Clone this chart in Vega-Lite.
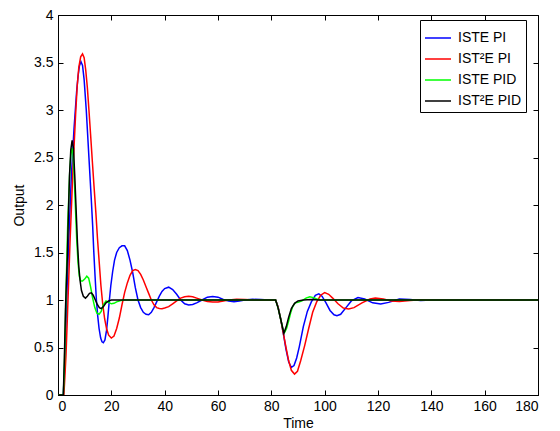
{
  "$schema": "https://vega.github.io/schema/vega-lite/v6.json",
  "width": 480,
  "height": 380,
  "autosize": "none",
  "padding": {"left": 58, "top": 15, "right": 22, "bottom": 36},
  "background": "white",
  "config": {
    "view": {"stroke": "black", "strokeWidth": 1},
    "axis": {"grid": false, "domainColor": "black", "tickColor": "black", "tickSize": -5, "labelColor": "black", "labelFont": "Liberation Sans", "labelFontSize": 14, "titleFont": "Liberation Sans", "titleFontSize": 14, "titleFontWeight": "normal", "titleColor": "black"}
  },
  "datasets": {
    "curves": [
      {"s":"ISTE PI","t":0,"y":0},{"s":"ISTE PI","t":2,"y":0},{"s":"ISTE PI","t":2.5,"y":0.3},{"s":"ISTE PI","t":3,"y":0.75},{"s":"ISTE PI","t":3.5,"y":1.2},{"s":"ISTE PI","t":4,"y":1.6},{"s":"ISTE PI","t":4.5,"y":1.95},{"s":"ISTE PI","t":5,"y":2.3},{"s":"ISTE PI","t":5.5,"y":2.55},{"s":"ISTE PI","t":6,"y":2.8},{"s":"ISTE PI","t":6.5,"y":3.0},{"s":"ISTE PI","t":7,"y":3.2},{"s":"ISTE PI","t":7.5,"y":3.35},{"s":"ISTE PI","t":8,"y":3.46},{"s":"ISTE PI","t":8.6,"y":3.51},{"s":"ISTE PI","t":9.2,"y":3.47},{"s":"ISTE PI","t":9.8,"y":3.32},{"s":"ISTE PI","t":10.6,"y":3.0},{"s":"ISTE PI","t":11.1,"y":2.75},{"s":"ISTE PI","t":11.6,"y":2.5},{"s":"ISTE PI","t":12.1,"y":2.25},{"s":"ISTE PI","t":12.5,"y":2.05},{"s":"ISTE PI","t":13,"y":1.78},{"s":"ISTE PI","t":13.4,"y":1.52},{"s":"ISTE PI","t":13.9,"y":1.25},{"s":"ISTE PI","t":14.4,"y":1.0},{"s":"ISTE PI","t":14.9,"y":0.83},{"s":"ISTE PI","t":15.4,"y":0.7},{"s":"ISTE PI","t":16,"y":0.6},{"s":"ISTE PI","t":16.5,"y":0.56},{"s":"ISTE PI","t":17,"y":0.55},{"s":"ISTE PI","t":17.6,"y":0.58},{"s":"ISTE PI","t":18.2,"y":0.68},{"s":"ISTE PI","t":18.7,"y":0.82},{"s":"ISTE PI","t":19.2,"y":0.98},{"s":"ISTE PI","t":19.8,"y":1.15},{"s":"ISTE PI","t":20.5,"y":1.3},{"s":"ISTE PI","t":21.2,"y":1.42},{"s":"ISTE PI","t":22,"y":1.5},{"s":"ISTE PI","t":23,"y":1.55},{"s":"ISTE PI","t":24,"y":1.57},{"s":"ISTE PI","t":25,"y":1.57},{"s":"ISTE PI","t":26,"y":1.52},{"s":"ISTE PI","t":27,"y":1.42},{"s":"ISTE PI","t":28,"y":1.29},{"s":"ISTE PI","t":29,"y":1.13},{"s":"ISTE PI","t":30,"y":1.0},{"s":"ISTE PI","t":31,"y":0.92},{"s":"ISTE PI","t":32,"y":0.87},{"s":"ISTE PI","t":33,"y":0.85},{"s":"ISTE PI","t":34,"y":0.845},{"s":"ISTE PI","t":35,"y":0.87},{"s":"ISTE PI","t":36,"y":0.92},{"s":"ISTE PI","t":37,"y":0.98},{"s":"ISTE PI","t":38,"y":1.04},{"s":"ISTE PI","t":39,"y":1.09},{"s":"ISTE PI","t":40,"y":1.12},{"s":"ISTE PI","t":41.5,"y":1.135},{"s":"ISTE PI","t":43,"y":1.11},{"s":"ISTE PI","t":44.5,"y":1.06},{"s":"ISTE PI","t":46,"y":1.0},{"s":"ISTE PI","t":47.5,"y":0.96},{"s":"ISTE PI","t":49,"y":0.948},{"s":"ISTE PI","t":50.5,"y":0.952},{"s":"ISTE PI","t":52,"y":0.97},{"s":"ISTE PI","t":54,"y":1.0},{"s":"ISTE PI","t":56,"y":1.03},{"s":"ISTE PI","t":58,"y":1.037},{"s":"ISTE PI","t":60,"y":1.03},{"s":"ISTE PI","t":62,"y":1.005},{"s":"ISTE PI","t":64,"y":0.99},{"s":"ISTE PI","t":66,"y":0.982},{"s":"ISTE PI","t":68,"y":0.99},{"s":"ISTE PI","t":70,"y":1.0},{"s":"ISTE PI","t":73,"y":1.008},{"s":"ISTE PI","t":76,"y":1.004},{"s":"ISTE PI","t":79,"y":1.0},{"s":"ISTE PI","t":81.6,"y":1.0},{"s":"ISTE PI","t":82.5,"y":0.93},{"s":"ISTE PI","t":83.5,"y":0.8},{"s":"ISTE PI","t":84.5,"y":0.65},{"s":"ISTE PI","t":85.5,"y":0.48},{"s":"ISTE PI","t":86.5,"y":0.35},{"s":"ISTE PI","t":87.5,"y":0.29},{"s":"ISTE PI","t":88.5,"y":0.31},{"s":"ISTE PI","t":89.5,"y":0.39},{"s":"ISTE PI","t":90.5,"y":0.51},{"s":"ISTE PI","t":92,"y":0.72},{"s":"ISTE PI","t":93.5,"y":0.88},{"s":"ISTE PI","t":95,"y":0.98},{"s":"ISTE PI","t":96.5,"y":1.05},{"s":"ISTE PI","t":97.8,"y":1.065},{"s":"ISTE PI","t":99,"y":1.04},{"s":"ISTE PI","t":100.5,"y":0.97},{"s":"ISTE PI","t":102,"y":0.89},{"s":"ISTE PI","t":103.5,"y":0.845},{"s":"ISTE PI","t":104.6,"y":0.835},{"s":"ISTE PI","t":106,"y":0.85},{"s":"ISTE PI","t":108,"y":0.92},{"s":"ISTE PI","t":110,"y":0.99},{"s":"ISTE PI","t":112.5,"y":1.025},{"s":"ISTE PI","t":115,"y":1.01},{"s":"ISTE PI","t":118,"y":0.97},{"s":"ISTE PI","t":121,"y":0.958},{"s":"ISTE PI","t":124,"y":0.975},{"s":"ISTE PI","t":128,"y":1.01},{"s":"ISTE PI","t":132,"y":1.005},{"s":"ISTE PI","t":136,"y":0.995},{"s":"ISTE PI","t":140,"y":1.0},{"s":"ISTE PI","t":180,"y":1.0},
      {"s":"IST²E PI","t":0,"y":0},{"s":"IST²E PI","t":2.2,"y":0},{"s":"IST²E PI","t":2.6,"y":0.2},{"s":"IST²E PI","t":3,"y":0.42},{"s":"IST²E PI","t":3.5,"y":0.8},{"s":"IST²E PI","t":4,"y":1.2},{"s":"IST²E PI","t":4.5,"y":1.6},{"s":"IST²E PI","t":5,"y":1.95},{"s":"IST²E PI","t":5.5,"y":2.3},{"s":"IST²E PI","t":6,"y":2.6},{"s":"IST²E PI","t":6.6,"y":2.95},{"s":"IST²E PI","t":7.2,"y":3.25},{"s":"IST²E PI","t":7.8,"y":3.45},{"s":"IST²E PI","t":8.5,"y":3.56},{"s":"IST²E PI","t":9.2,"y":3.59},{"s":"IST²E PI","t":9.8,"y":3.55},{"s":"IST²E PI","t":10.4,"y":3.42},{"s":"IST²E PI","t":11,"y":3.24},{"s":"IST²E PI","t":11.6,"y":3.0},{"s":"IST²E PI","t":12.2,"y":2.75},{"s":"IST²E PI","t":12.9,"y":2.45},{"s":"IST²E PI","t":13.5,"y":2.2},{"s":"IST²E PI","t":14.2,"y":1.92},{"s":"IST²E PI","t":14.8,"y":1.65},{"s":"IST²E PI","t":15.5,"y":1.38},{"s":"IST²E PI","t":16.1,"y":1.15},{"s":"IST²E PI","t":16.8,"y":0.95},{"s":"IST²E PI","t":17.5,"y":0.8},{"s":"IST²E PI","t":18.2,"y":0.7},{"s":"IST²E PI","t":19,"y":0.63},{"s":"IST²E PI","t":20,"y":0.6},{"s":"IST²E PI","t":21,"y":0.62},{"s":"IST²E PI","t":22,"y":0.7},{"s":"IST²E PI","t":23,"y":0.81},{"s":"IST²E PI","t":24,"y":0.95},{"s":"IST²E PI","t":25,"y":1.08},{"s":"IST²E PI","t":26,"y":1.18},{"s":"IST²E PI","t":27,"y":1.26},{"s":"IST²E PI","t":28,"y":1.31},{"s":"IST²E PI","t":29,"y":1.32},{"s":"IST²E PI","t":30,"y":1.31},{"s":"IST²E PI","t":31,"y":1.27},{"s":"IST²E PI","t":32,"y":1.21},{"s":"IST²E PI","t":33,"y":1.14},{"s":"IST²E PI","t":34,"y":1.07},{"s":"IST²E PI","t":35,"y":1.0},{"s":"IST²E PI","t":36,"y":0.95},{"s":"IST²E PI","t":37,"y":0.92},{"s":"IST²E PI","t":38,"y":0.91},{"s":"IST²E PI","t":39,"y":0.908},{"s":"IST²E PI","t":40,"y":0.915},{"s":"IST²E PI","t":41.5,"y":0.93},{"s":"IST²E PI","t":43,"y":0.96},{"s":"IST²E PI","t":44.5,"y":0.99},{"s":"IST²E PI","t":46,"y":1.02},{"s":"IST²E PI","t":47.5,"y":1.035},{"s":"IST²E PI","t":49,"y":1.04},{"s":"IST²E PI","t":50.5,"y":1.035},{"s":"IST²E PI","t":52,"y":1.02},{"s":"IST²E PI","t":54,"y":1.0},{"s":"IST²E PI","t":56,"y":0.985},{"s":"IST²E PI","t":58,"y":0.978},{"s":"IST²E PI","t":60,"y":0.98},{"s":"IST²E PI","t":62,"y":0.99},{"s":"IST²E PI","t":64,"y":1.0},{"s":"IST²E PI","t":67,"y":1.008},{"s":"IST²E PI","t":70,"y":1.006},{"s":"IST²E PI","t":74,"y":1.0},{"s":"IST²E PI","t":78,"y":0.998},{"s":"IST²E PI","t":81.6,"y":1.0},{"s":"IST²E PI","t":82.5,"y":0.93},{"s":"IST²E PI","t":83.5,"y":0.8},{"s":"IST²E PI","t":84.5,"y":0.65},{"s":"IST²E PI","t":85.5,"y":0.5},{"s":"IST²E PI","t":86.5,"y":0.36},{"s":"IST²E PI","t":87.5,"y":0.26},{"s":"IST²E PI","t":88.7,"y":0.22},{"s":"IST²E PI","t":89.8,"y":0.25},{"s":"IST²E PI","t":91,"y":0.36},{"s":"IST²E PI","t":92.5,"y":0.52},{"s":"IST²E PI","t":94,"y":0.7},{"s":"IST²E PI","t":95.5,"y":0.87},{"s":"IST²E PI","t":97,"y":0.98},{"s":"IST²E PI","t":98.5,"y":1.05},{"s":"IST²E PI","t":100,"y":1.078},{"s":"IST²E PI","t":101.5,"y":1.06},{"s":"IST²E PI","t":103,"y":1.02},{"s":"IST²E PI","t":105,"y":0.96},{"s":"IST²E PI","t":107,"y":0.915},{"s":"IST²E PI","t":109,"y":0.905},{"s":"IST²E PI","t":111,"y":0.92},{"s":"IST²E PI","t":114,"y":0.97},{"s":"IST²E PI","t":117,"y":1.01},{"s":"IST²E PI","t":119,"y":1.02},{"s":"IST²E PI","t":122,"y":1.01},{"s":"IST²E PI","t":125,"y":0.99},{"s":"IST²E PI","t":128,"y":0.985},{"s":"IST²E PI","t":132,"y":0.995},{"s":"IST²E PI","t":136,"y":1.003},{"s":"IST²E PI","t":140,"y":1.0},{"s":"IST²E PI","t":180,"y":1.0},
      {"s":"ISTE PID","t":0,"y":0},{"s":"ISTE PID","t":2,"y":0},{"s":"ISTE PID","t":2.4,"y":0.3},{"s":"ISTE PID","t":2.8,"y":0.8},{"s":"ISTE PID","t":3.2,"y":1.3},{"s":"ISTE PID","t":3.6,"y":1.75},{"s":"ISTE PID","t":4,"y":2.05},{"s":"ISTE PID","t":4.4,"y":2.35},{"s":"ISTE PID","t":4.8,"y":2.52},{"s":"ISTE PID","t":5.2,"y":2.6},{"s":"ISTE PID","t":5.6,"y":2.55},{"s":"ISTE PID","t":6,"y":2.35},{"s":"ISTE PID","t":6.5,"y":2.0},{"s":"ISTE PID","t":7,"y":1.65},{"s":"ISTE PID","t":7.5,"y":1.4},{"s":"ISTE PID","t":8,"y":1.25},{"s":"ISTE PID","t":8.5,"y":1.2},{"s":"ISTE PID","t":9.2,"y":1.2},{"s":"ISTE PID","t":10,"y":1.22},{"s":"ISTE PID","t":10.8,"y":1.25},{"s":"ISTE PID","t":11.5,"y":1.23},{"s":"ISTE PID","t":12.2,"y":1.14},{"s":"ISTE PID","t":13,"y":1.02},{"s":"ISTE PID","t":13.8,"y":0.92},{"s":"ISTE PID","t":14.6,"y":0.86},{"s":"ISTE PID","t":15.4,"y":0.85},{"s":"ISTE PID","t":16.2,"y":0.88},{"s":"ISTE PID","t":17,"y":0.95},{"s":"ISTE PID","t":18,"y":0.99},{"s":"ISTE PID","t":19,"y":0.975},{"s":"ISTE PID","t":20,"y":0.96},{"s":"ISTE PID","t":21,"y":0.965},{"s":"ISTE PID","t":22,"y":0.98},{"s":"ISTE PID","t":23.5,"y":0.995},{"s":"ISTE PID","t":25,"y":1.0},{"s":"ISTE PID","t":81.6,"y":1.0},{"s":"ISTE PID","t":82.5,"y":0.92},{"s":"ISTE PID","t":83.5,"y":0.8},{"s":"ISTE PID","t":84.3,"y":0.7},{"s":"ISTE PID","t":85,"y":0.66},{"s":"ISTE PID","t":85.7,"y":0.7},{"s":"ISTE PID","t":86.5,"y":0.78},{"s":"ISTE PID","t":87.3,"y":0.87},{"s":"ISTE PID","t":88,"y":0.93},{"s":"ISTE PID","t":89,"y":0.97},{"s":"ISTE PID","t":90,"y":0.975},{"s":"ISTE PID","t":91.5,"y":0.99},{"s":"ISTE PID","t":93,"y":1.02},{"s":"ISTE PID","t":94.4,"y":1.035},{"s":"ISTE PID","t":95.8,"y":1.025},{"s":"ISTE PID","t":97,"y":1.01},{"s":"ISTE PID","t":98.5,"y":1.0},{"s":"ISTE PID","t":180,"y":1.0},
      {"s":"IST²E PID","t":0,"y":0},{"s":"IST²E PID","t":2,"y":0},{"s":"IST²E PID","t":2.4,"y":0.4},{"s":"IST²E PID","t":2.8,"y":0.9},{"s":"IST²E PID","t":3.1,"y":1.15},{"s":"IST²E PID","t":3.5,"y":1.45},{"s":"IST²E PID","t":3.9,"y":1.9},{"s":"IST²E PID","t":4.3,"y":2.3},{"s":"IST²E PID","t":4.8,"y":2.58},{"s":"IST²E PID","t":5.3,"y":2.68},{"s":"IST²E PID","t":5.8,"y":2.6},{"s":"IST²E PID","t":6.3,"y":2.3},{"s":"IST²E PID","t":6.8,"y":1.95},{"s":"IST²E PID","t":7.3,"y":1.6},{"s":"IST²E PID","t":7.8,"y":1.35},{"s":"IST²E PID","t":8.3,"y":1.2},{"s":"IST²E PID","t":8.8,"y":1.1},{"s":"IST²E PID","t":9.5,"y":1.04},{"s":"IST²E PID","t":10.3,"y":1.02},{"s":"IST²E PID","t":11,"y":1.04},{"s":"IST²E PID","t":11.8,"y":1.07},{"s":"IST²E PID","t":12.5,"y":1.075},{"s":"IST²E PID","t":13.2,"y":1.05},{"s":"IST²E PID","t":14,"y":1.0},{"s":"IST²E PID","t":14.8,"y":0.95},{"s":"IST²E PID","t":15.5,"y":0.92},{"s":"IST²E PID","t":16.2,"y":0.91},{"s":"IST²E PID","t":17,"y":0.93},{"s":"IST²E PID","t":18,"y":0.97},{"s":"IST²E PID","t":19,"y":0.99},{"s":"IST²E PID","t":20,"y":1.0},{"s":"IST²E PID","t":81.6,"y":1.0},{"s":"IST²E PID","t":82.5,"y":0.92},{"s":"IST²E PID","t":83.5,"y":0.8},{"s":"IST²E PID","t":84.7,"y":0.65},{"s":"IST²E PID","t":85.6,"y":0.72},{"s":"IST²E PID","t":86.5,"y":0.82},{"s":"IST²E PID","t":87.5,"y":0.91},{"s":"IST²E PID","t":88.7,"y":0.965},{"s":"IST²E PID","t":90,"y":0.99},{"s":"IST²E PID","t":92,"y":1.0},{"s":"IST²E PID","t":95,"y":1.005},{"s":"IST²E PID","t":98,"y":1.0},{"s":"IST²E PID","t":180,"y":1.0}
    ]
  },
  "data": {"name": "curves"},
  "layer": [
    {
      "mark": {"type": "line", "strokeWidth": 1.5, "clip": true},
      "encoding": {
        "x": {"field": "t", "type": "quantitative", "scale": {"domain": [0, 180], "nice": false, "zero": false}, "axis": {"values": [0,20,40,60,80,100,120,140,160,180], "title": "Time", "labelPadding": 9, "titlePadding": 3}},
        "y": {"field": "y", "type": "quantitative", "scale": {"domain": [0, 4], "nice": false}, "axis": {"values": [0,0.5,1,1.5,2,2.5,3,3.5,4], "format": "~g", "title": "Output", "labelPadding": 10, "titlePadding": 7}},
        "color": {"field": "s", "type": "nominal", "sort": ["ISTE PI","IST²E PI","ISTE PID","IST²E PID"], "scale": {"domain": ["ISTE PI","IST²E PI","ISTE PID","IST²E PID"], "range": ["#0000ff","#ff0000","#00ff00","#000000"]},
          "legend": {"title": null, "orient": "none", "legendX": 362, "legendY": 5, "symbolType": "stroke", "symbolSize": 676, "symbolStrokeWidth": 1.5, "labelFont": "Liberation Sans", "labelFontSize": 14, "labelColor": "black", "strokeColor": "black", "fillColor": "white", "padding": 4, "rowPadding": 0, "labelOffset": 6, "cornerRadius": 0}},
        "order": {"field": "t", "type": "quantitative"}
      }
    },
    {
      "mark": {"type": "point", "opacity": 0},
      "encoding": {
        "x": {"field": "t", "type": "quantitative", "axis": {"orient": "top", "values": [0,20,40,60,80,100,120,140,160,180], "labels": false, "title": null, "domain": false}},
        "y": {"field": "y", "type": "quantitative", "axis": {"orient": "right", "values": [0,0.5,1,1.5,2,2.5,3,3.5,4], "labels": false, "title": null, "domain": false}}
      }
    }
  ],
  "resolve": {"axis": {"x": "independent", "y": "independent"}}
}
